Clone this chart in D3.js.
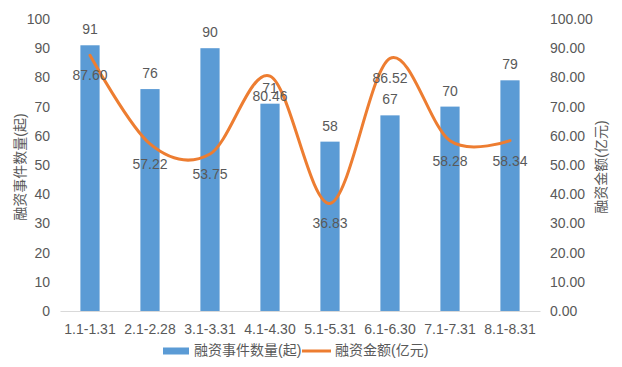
<!DOCTYPE html>
<html>
<head>
<meta charset="utf-8">
<script src="https://cdn.jsdelivr.net/npm/d3@7"></script>
<style>
  body { margin: 0; background: #fff; }
  text { font-family: "Liberation Sans", Arial, "Noto Sans CJK SC", sans-serif; fill: #595959; }
</style>
</head>
<body>
<div id="chart"></div>
<script>
// chart data
let periods = ['1.1-1.31', '2.1-2.28', '3.1-3.31', '4.1-4.30', '5.1-5.31', '6.1-6.30', '7.1-7.31', '8.1-8.31'];
let dealCounts = [91, 76, 90, 71, 58, 67, 70, 79];
let amounts = [87.60, 57.22, 53.75, 80.46, 36.83, 86.52, 58.28, 58.34];
let leftTicks = [0, 10, 20, 30, 40, 50, 60, 70, 80, 90, 100];
let rightTicks = [0, 10, 20, 30, 40, 50, 60, 70, 80, 90, 100];
let seriesNames = ['融资事件数量(起)', '融资金额(亿元)'];

let width = 622, height = 367;
let margin = { top: 19, right: 82, bottom: 56, left: 60 };

let svg = d3.select('#chart').append('svg')
    .attr('width', width)
    .attr('height', height);

let x = d3.scaleBand()
    .domain(periods)
    .range([margin.left, width - margin.right])
    .paddingInner(0.68)
    .paddingOuter(0.34);

let yLeft = d3.scaleLinear()
    .domain([0, 100])
    .range([height - margin.bottom, margin.top]);

let yRight = d3.scaleLinear()
    .domain([0, 100])
    .range([height - margin.bottom, margin.top]);

let blue = '#5B9BD5', orange = '#ED7D31';

// left axis
let gl = svg.append('g')
    .attr('transform', 'translate(' + (margin.left - 10) + ',0)')
    .call(d3.axisLeft(yLeft).tickValues(leftTicks).tickSize(0).tickPadding(0));
gl.select('.domain').remove();
gl.selectAll('text').style('font-size', '14px').attr('fill', '#595959');

// right axis
let gr = svg.append('g')
    .attr('transform', 'translate(' + (width - margin.right + 10) + ',0)')
    .call(d3.axisRight(yRight).tickValues(rightTicks).tickFormat(d3.format('.2f')).tickSize(0).tickPadding(0));
gr.select('.domain').remove();
gr.selectAll('text').style('font-size', '14px').attr('fill', '#595959');

// x axis
let gx = svg.append('g')
    .attr('transform', 'translate(0,' + (height - margin.bottom) + ')')
    .call(d3.axisBottom(x).tickSize(0).tickPadding(13));
gx.select('.domain').attr('stroke', '#d9d9d9').attr('stroke-width', 1);
gx.selectAll('text').style('font-size', '14px').attr('fill', '#595959');

// axis titles
svg.append('text')
    .attr('transform', 'translate(21,' + (yLeft(50) + 2) + ') rotate(-90)')
    .attr('text-anchor', 'middle')
    .attr('dominant-baseline', 'middle')
    .style('font-size', '14px')
    .text(seriesNames[0]);

svg.append('text')
    .attr('transform', 'translate(602,' + (yLeft(50) + 2) + ') rotate(-90)')
    .attr('text-anchor', 'middle')
    .attr('dominant-baseline', 'middle')
    .style('font-size', '14px')
    .text(seriesNames[1]);

// bars
svg.append('g').selectAll('rect')
    .data(dealCounts)
    .join('rect')
    .attr('x', function(d, i) { return x(periods[i]); })
    .attr('y', function(d) { return yLeft(d); })
    .attr('width', x.bandwidth())
    .attr('height', function(d) { return yLeft(0) - yLeft(d); })
    .attr('fill', blue);

// bar labels
svg.append('g').selectAll('text')
    .data(dealCounts)
    .join('text')
    .attr('x', function(d, i) { return x(periods[i]) + x.bandwidth() / 2; })
    .attr('y', function(d) { return yLeft(d) - 11; })
    .attr('text-anchor', 'middle')
    .style('font-size', '14px')
    .text(function(d) { return d; });

// smooth line
let line = d3.line()
    .x(function(d, i) { return x(periods[i]) + x.bandwidth() / 2; })
    .y(function(d) { return yRight(d); })
    .curve(d3.curveCatmullRom.alpha(0));

svg.append('path')
    .datum(amounts)
    .attr('d', line)
    .attr('fill', 'none')
    .attr('stroke', orange)
    .attr('stroke-width', 3)
    .attr('stroke-linecap', 'round');

// line labels
svg.append('g').selectAll('text')
    .data(amounts)
    .join('text')
    .attr('x', function(d, i) { return x(periods[i]) + x.bandwidth() / 2; })
    .attr('y', function(d) { return yRight(d) + 25; })
    .attr('text-anchor', 'middle')
    .style('font-size', '14px')
    .text(function(d) { return d3.format('.2f')(d); });

// legend
let lg = svg.append('g').attr('transform', 'translate(0,351)');
lg.append('rect')
    .attr('x', 163).attr('y', -3.5)
    .attr('width', 26).attr('height', 7)
    .attr('fill', blue);
lg.append('text')
    .attr('x', 194).attr('y', 0)
    .attr('dominant-baseline', 'middle')
    .style('font-size', '14px')
    .text(seriesNames[0]);
lg.append('line')
    .attr('x1', 302).attr('x2', 331)
    .attr('y1', 0).attr('y2', 0)
    .attr('stroke', orange).attr('stroke-width', 3);
lg.append('text')
    .attr('x', 335).attr('y', 0)
    .attr('dominant-baseline', 'middle')
    .style('font-size', '14px')
    .text(seriesNames[1]);
</script>
</body>
</html>
